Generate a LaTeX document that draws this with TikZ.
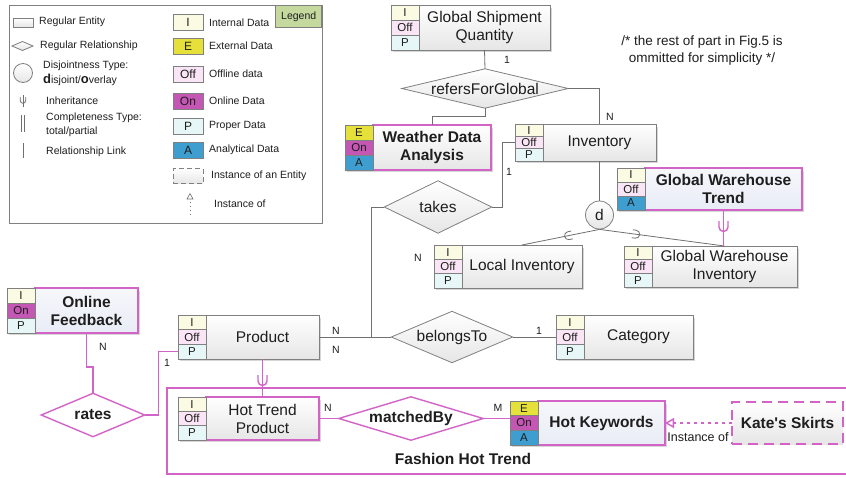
\documentclass[tikz,border=0pt]{standalone}
\usepackage{fontspec}
\setmainfont{Liberation Sans}[Ligatures=TeXOff]
\usetikzlibrary{calc,arrows.meta}
\pgfdeclarelayer{background}
\pgfdeclarelayer{paper}
\pgfsetlayers{paper,background,main}

\definecolor{lnk}{HTML}{707070}
\definecolor{entgray}{HTML}{808080}
\definecolor{entfill}{HTML}{E6E6E6}
\definecolor{hotpink}{HTML}{D264C8}
\definecolor{hotfill}{HTML}{E8ECF5}
\definecolor{cI}{HTML}{FBFBE3}
\definecolor{cE}{HTML}{E5E03A}
\definecolor{cOff}{HTML}{F9E5F5}
\definecolor{cOn}{HTML}{C456B4}
\definecolor{cP}{HTML}{E7F6F6}
\definecolor{cA}{HTML}{3F9ED0}
\definecolor{leggreen}{HTML}{C5D99E}
\definecolor{txt}{HTML}{1E1E1E}

\newcommand\entfont{\fontsize{15.5}{18}\selectfont}
\newcommand\legfont{\fontsize{10.5}{15}\selectfont}
\newcommand\cardfont{\fontsize{10.5}{12}\selectfont}

% one coloured cell of the data-type column left of an entity
\newcommand\tagcell[5]{%
  \draw[tag#5] ($(#1.north west)!#2!(#1.south west)+(-28,0)$) rectangle ($(#1.north west)!#3!(#1.south west)$);
  \node[tagtxt] (#1-#5) at ($(#1.north west)!#4!(#1.south west)+(-14,0)$) {#5};}
\newcommand\tags[4]{%
  \begin{pgfonlayer}{background}
    \fill[black, opacity=.16] ($(#1.north west)+(-26,3)$) rectangle ($(#1.south east)+(2,2)$);
  \end{pgfonlayer}%
  \tagcell{#1}{0}{1/3}{1/6}{#2}%
  \tagcell{#1}{1/3}{2/3}{1/2}{#3}%
  \tagcell{#1}{2/3}{1}{5/6}{#4}}
% relationship diamond: #1 style prefix, #2 name, #3 centre, #4 width, #5 height, #6 label
\newcommand\relship[6]{%
  \node[#1reltext, minimum width=#4, minimum height=#5] (#2) at (#3) {#6};
  \begin{pgfonlayer}{background}
    \draw[#1relshape] (#2.north) -- (#2.east) -- (#2.south) -- (#2.west) -- cycle;
  \end{pgfonlayer}}

\begin{document}
\begin{tikzpicture}[x=1pt,y=-1pt,
  tag/.style={draw=entgray, line width=.6pt},
  tagI/.style={tag, fill=cI}, tagE/.style={tag, fill=cE},
  tagOff/.style={tag, fill=cOff}, tagOn/.style={tag, fill=cOn},
  tagP/.style={tag, fill=cP}, tagA/.style={tag, fill=cA},
  tagtxt/.style={inner sep=0pt, font=\fontsize{11.5}{12}\selectfont, text=txt},
  entbase/.style={inner sep=0pt, outer sep=0pt, anchor=north west, align=center, text=txt, font=\entfont},
  ent/.style={entbase, draw=entgray, line width=.8pt, top color=white, bottom color=entfill},
  pinkent/.style={ent, draw=hotpink, line width=1.4pt},
  hotent/.style={entbase, draw=hotpink, line width=1.4pt, top color=hotfill!40!white, bottom color=hotfill, font=\entfont\bfseries},
  instent/.style={pinkent, dash pattern=on 10pt off 6pt, font=\entfont\bfseries},
  reltext/.style={inner sep=0pt, text=txt, font=\entfont},
  relshape/.style={draw=entgray, line width=.8pt, top color=white, bottom color=entfill},
  hotreltext/.style={reltext, font=\entfont\bfseries},
  hotrelshape/.style={draw=hotpink, line width=1.4pt, fill=white},
  circ/.style={circle, draw=entgray, line width=.8pt, top color=white, bottom color=entfill, minimum size=28, inner sep=0pt, text=txt, font=\entfont},
  link/.style={draw=lnk, line width=.8pt},
  plink/.style={draw=hotpink, line width=1.4pt},
  card/.style={inner sep=0pt, text=txt, font=\cardfont},
  legtxt/.style={anchor=west, inner sep=0pt, align=left, text=txt, font=\legfont},
  legcell/.style={minimum width=30, minimum height=16, inner sep=0pt, text=txt, font=\fontsize{12}{12}\selectfont},
  pics/inh/.style={code={\draw[#1] (-4.5,-5) -- (-4.5,1) arc[start angle=180,end angle=0,radius=4.5] -- (4.5,-5);}}
]
\useasboundingbox (0,0) rectangle (846,477);
\begin{pgfonlayer}{paper}
  \fill[white] (0,0) rectangle (846,477);
\end{pgfonlayer}

% ---------------- legend ----------------
\draw[draw=entgray, line width=.8pt] (9,5) rectangle (322,223);
\node[draw=entgray, fill=leggreen, line width=.6pt, anchor=north east, minimum width=46, minimum height=22, inner sep=0pt, text=txt, font=\legfont] (legtitle) at (322,5) {Legend};

\node[ent, minimum width=20, minimum height=9] (lgent) at (13,18) {};
\node[legtxt] (lt1) at (39,22) {Regular Entity};
\draw[relshape] (12,46) -- (22.5,41.5) -- (33,46) -- (22.5,50.5) -- cycle;
\node[legtxt] (lt2) at (40,46) {Regular Relationship};
\node[circ, minimum size=19] (lgcirc) at (23,73) {};
\node[legtxt] (lt3) at (43,73.5) {Disjointness Type:\\{\fontsize{13}{13}\selectfont\bfseries d}isjoint/{\fontsize{13}{13}\selectfont\bfseries o}verlay};
\draw[link] (23,95) -- (23,107);
\pic at (23,100) {inh={link, scale=.6}};
\node[legtxt] (lt4) at (46,101) {Inheritance};
\draw[link] (21.5,115) -- (21.5,132) (24.5,115) -- (24.5,132);
\node[legtxt, font=\fontsize{10.5}{14}\selectfont] (lt5) at (46,125) {Completeness Type:\\total/partial};
\draw[link] (23,143) -- (23,158);
\node[legtxt] (lt6) at (46,152) {Relationship Link};

\node[tagI, legcell] (lgI) at (188,22) {I};
\node[legtxt] (lr1) at (209,23) {Internal Data};
\node[tagE, legcell] (lgE) at (188,46) {E};
\node[legtxt] (lr2) at (209,46) {External Data};
\node[tagOff, legcell] (lgOff) at (188,74) {Off};
\node[legtxt] (lr3) at (209,74) {Offline data};
\node[tagOn, legcell] (lgOn) at (188,101) {On};
\node[legtxt] (lr4) at (209,101) {Online Data};
\node[tagP, legcell] (lgP) at (188,126) {P};
\node[legtxt] (lr5) at (209,126) {Proper Data};
\node[tagA, legcell] (lgA) at (188,150) {A};
\node[legtxt] (lr6) at (209,150) {Analytical Data};
\node[legcell, draw=entgray, dash pattern=on 5pt off 3pt, line width=.6pt, top color=white, bottom color=entfill, minimum height=15] (lginst) at (188,176) {};
\node[legtxt] (lr7) at (211,176) {Instance of an Entity};
\draw[link, line width=.6pt] (187,199) -- (190,193.5) -- (193,199) -- cycle;
\draw[link, dash pattern=on 1pt off 3pt] (190,202) -- (190,215);
\node[legtxt] (lr8) at (214,204) {Instance of};

% ---------------- note ----------------
\node[align=center, inner sep=0pt, text=txt, font=\fontsize{13.5}{17}\selectfont] (note) at (702,51) {/* the rest of part in Fig.5 is\\ommitted for simplicity */};

% ---------------- entities ----------------
\node[ent, minimum width=131, minimum height=45] (gsq) at (419,5) {Global Shipment\\Quantity};
\tags{gsq}{I}{Off}{P}
\node[pinkent, font=\entfont\bfseries, minimum width=118, minimum height=45] (wda) at (373,125) {Weather Data\\Analysis};
\tags{wda}{E}{On}{A}
\node[ent, minimum width=113, minimum height=37] (inv) at (543,124) {Inventory};
\tags{inv}{I}{Off}{P}
\node[hotent, minimum width=157, minimum height=42] (gwt) at (645,168) {Global Warehouse\\Trend};
\tags{gwt}{I}{Off}{A}
\node[ent, minimum width=145, minimum height=41] (gwi) at (652,246) {Global Warehouse\\Inventory};
\tags{gwi}{I}{Off}{P}
\node[ent, minimum width=120, minimum height=43] (loc) at (462,245) {Local Inventory};
\tags{loc}{I}{Off}{P}
\node[ent, minimum width=109, minimum height=44] (cat) at (584,315) {Category};
\tags{cat}{I}{Off}{P}
\node[ent, minimum width=113, minimum height=44] (prod) at (206,315) {Product};
\tags{prod}{I}{Off}{P}
\node[hotent, minimum width=103, minimum height=45] (of) at (35,288) {Online\\Feedback};
\tags{of}{I}{On}{P}
\node[pinkent, minimum width=113, minimum height=43] (htp) at (206,397) {Hot Trend\\Product};
\tags{htp}{I}{Off}{P}
\node[hotent, minimum width=127, minimum height=44] (hk) at (538,401) {Hot Keywords};
\tags{hk}{E}{On}{A}
\node[instent, minimum width=111, minimum height=42] (kate) at (732,402) {Kate's Skirts};

% ---------------- relationships ----------------
\relship{}{rfg}{485,88.5}{166}{39}{refersForGlobal}
\relship{}{takes}{438,207}{107}{52}{takes}
\relship{}{bel}{452,337}{121}{51}{belongsTo}
\relship{hot}{rates}{93,415}{103}{43}{rates}
\relship{hot}{mb}{411,418.5}{144}{43}{matchedBy}
\node[circ] (d) at (599.5,215) {d};

% ---------------- fashion hot trend frame ----------------
\draw[plink] (850,388) -- (167,388) -- (167,474) -- (850,474);
\node[inner sep=0pt, text=txt, font=\fontsize{15.5}{18}\selectfont\bfseries] (fht) at (463,459) {Fashion Hot Trend};

% ---------------- connectors ----------------
\coordinate (invw) at ($(inv.west)+(-28,0)$);
\coordinate (catw) at ($(cat.west)+(-28,0)$);
\coordinate (hkw) at ($(hk.west)+(-28,0)$);
\coordinate (prodp) at ($(prod.south west)!1/6!(prod.north west)+(-28,0)$);
\coordinate (jn) at (371,337);

\draw[link] (gsq.south) -- (rfg.north);
\draw[link] (rfg.east) -| (inv.north);
\draw[link] (rfg.south) -- ++(0,8.5) -| (wda.north);
\draw[link] (takes.east) -- ++(11,0) |- (invw);
\draw[link] (takes.west) -| (jn);
\draw[link] (prod.east) -- (bel.west);
\draw[link] (bel.east) -- (catw);
\draw[link] (inv.south) -- (d.north);
\draw[link] (d.south) -- (loc.north);
\draw[link] (d.south) -- (gwi.north);
% subset marks on the specialisation lines, open side towards the circle
\begin{scope}[shift={($(d.south)!.4!(loc.north)$)}, rotate=11.7]
  \draw[link] (3.5,4) -- (0,4) arc[start angle=90,end angle=270,radius=4] -- (3.5,-4);
\end{scope}
\begin{scope}[shift={($(d.south)!.29!(gwi.north)$)}, rotate=172.3]
  \draw[link] (3.5,4) -- (0,4) arc[start angle=90,end angle=270,radius=4] -- (3.5,-4);
\end{scope}

\draw[plink] (gwt.south) -- (gwt.south |- gwi.north);
\pic at ($(gwt.south)+(0,16)$) {inh=plink};
\draw[plink] (prod.south) -- (htp.north);
\pic at ($(prod.south)+(0,21)$) {inh=plink};

\draw[plink] (of.south) -- ++(0,34) -| (rates.north);
\draw[plink] (rates.east) -- ++(13.5,0) |- (prodp);
\draw[plink] (htp.east) -- (mb.west);
\draw[plink] (mb.east) -- (mb.east -| hkw);
\draw[plink, dash pattern=on 3pt off 4pt, -{Triangle[open, length=9pt, width=10pt]}] (kate.west) -- (hk.east);
\node[inner sep=0pt, text=txt, font=\fontsize{12.5}{14}\selectfont] (instlbl) at (698,437) {Instance of};

% ---------------- cardinalities ----------------
\node[card] (c1) at (507,60) {1};
\node[card] (c2) at (610,117) {N};
\node[card] (c3) at (509,172) {1};
\node[card] (c4) at (418,258) {N};
\node[card] (c5) at (336,331) {N};
\node[card] (c6) at (336,350) {N};
\node[card] (c7) at (539,331) {1};
\node[card] (c8) at (103,347) {N};
\node[card] (c9) at (167,363) {1};
\node[card] (c10) at (328,408) {N};
\node[card] (c11) at (498,408) {M};
\end{tikzpicture}
\end{document}
